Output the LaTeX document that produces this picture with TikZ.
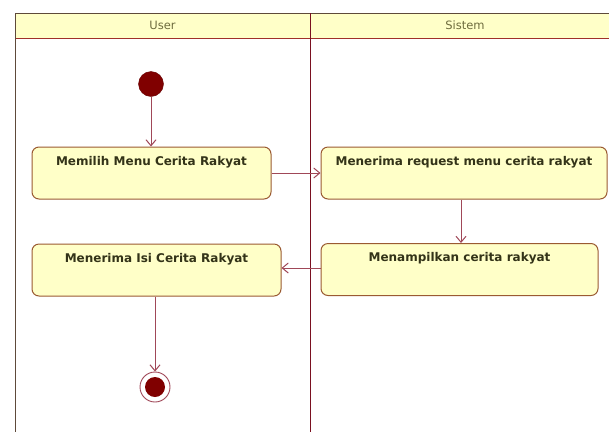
\documentclass[tikz,border=0pt]{standalone}
\usepackage{fontspec}
\setmainfont{DejaVu Sans}
\usetikzlibrary{arrows.meta}
\definecolor{actfill}{HTML}{FFFFC8}
\definecolor{actborder}{HTML}{9A5A32}
\definecolor{flowline}{HTML}{A04858}
\definecolor{lanehead}{HTML}{FFFFC8}
\definecolor{laneline}{HTML}{5E4A3A}
\definecolor{lanesep}{HTML}{7A1020}
\definecolor{headrule}{HTML}{A0302A}
\definecolor{nodedark}{HTML}{800000}
\definecolor{acttext}{HTML}{333318}
\definecolor{headtext}{HTML}{6E6C3E}
\tikzset{
  x=1pt, y=-1pt,
  action/.style={draw=actborder, line width=1pt, fill=actfill, rounded corners=7pt,
    font=\fontsize{12}{14}\selectfont\bfseries, text=acttext,
    inner xsep=0pt, inner ysep=6pt, text height=12pt, text depth=28pt},
  flow/.style={draw=flowline, line width=1pt, -{Straight Barb[length=6pt,width=10pt]}},
  lanetitle/.style={font=\fontsize{11.5}{13}\selectfont, text=headtext},
  initial/.style={circle, fill=nodedark, draw=nodedark!80!black, minimum size=25pt, inner sep=0pt},
  finalring/.style={circle, draw=flowline, line width=0.9pt, fill=white, minimum size=30pt, inner sep=0pt},
  finaldot/.style={circle, fill=nodedark, minimum size=20pt, inner sep=0pt},
}
\begin{document}
\begin{tikzpicture}
\useasboundingbox (0,0) rectangle (609,432);
\fill[white] (0,0) rectangle (609,432);

% swimlane header
\fill[lanehead] (15,13) rectangle (609,38.5);
\draw[laneline, line width=1pt] (15,13) -- (609,13);
\draw[headrule, line width=1.6pt] (15,38.5) -- (609,38.5);
\draw[laneline, line width=1pt] (15,13) -- (15,432);
\draw[lanesep, line width=1pt] (310,13) -- (310,432);
\node[lanetitle] (userlane) at (162.5,25.5) {User};
\node[lanetitle] (syslane) at (465,25.5) {Sistem};

% activity nodes
\node[initial] (start) at (151,84) {};
\node[action, minimum width=239pt] (pilih) at (151.5,173) {Memilih Menu Cerita Rakyat};
\node[action, minimum width=286pt] (terima) at (464,173) {Menerima request menu cerita rakyat};
\node[action, minimum width=277pt] (tampil) at (459.5,269.5) {Menampilkan cerita rakyat};
\node[action, minimum width=249pt] (isi) at (156.5,270) {Menerima Isi Cerita Rakyat};

% final node
\node[finalring] (final) at (155,387) {};
\node[finaldot] (finalin) at (final.center) {};

% control flows
\draw[flow] (start.south) -- (pilih.north -| start);
\draw[flow] (pilih.east) -- (pilih.east -| terima.west);
\draw[flow] ([xshift=-3pt]terima.south) -- ([xshift=-3pt]terima.south |- tampil.north);
\draw[flow] (tampil.west |- 0,268) -- (isi.east |- 0,268);
\draw[flow] (isi.south -| final) -- (final.north);
\end{tikzpicture}
\end{document}
